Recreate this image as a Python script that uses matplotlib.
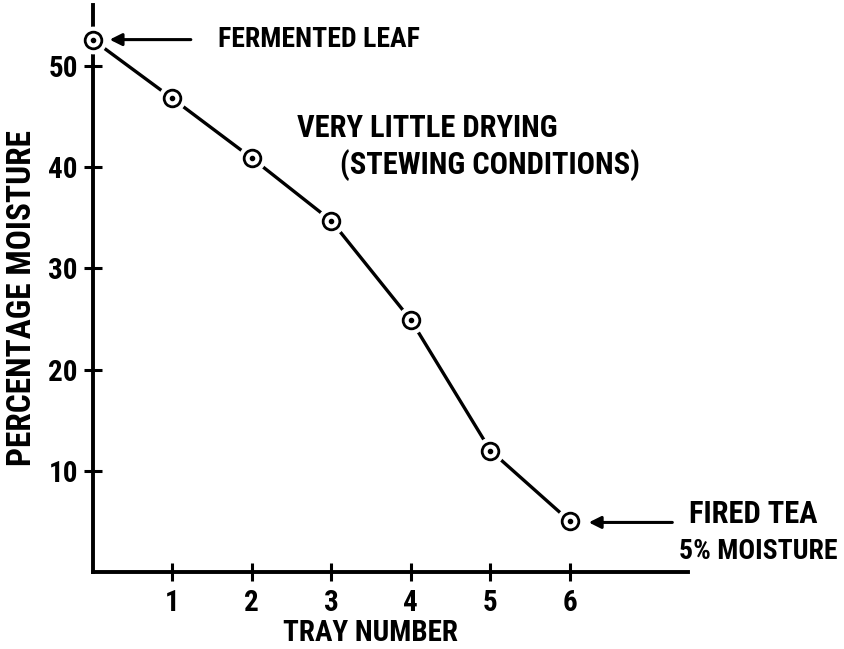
import matplotlib
matplotlib.use("Agg")
import matplotlib.pyplot as plt

tray = [0, 1, 2, 3, 4, 5, 6]
moisture = [52.6, 46.8, 40.9, 34.7, 24.9, 12.0, 5.0]
xticks = [1, 2, 3, 4, 5, 6]
yticks = [10, 20, 30, 40, 50]

plt.rcParams['font.family'] = ['DejaVu Sans Condensed', 'Liberation Sans Narrow',
                               'Roboto Condensed', 'DejaVu Sans']
plt.rcParams['font.stretch'] = 'condensed'
plt.rcParams['font.weight'] = 'semibold'
plt.rcParams['axes.labelweight'] = 'semibold'

fig = plt.figure(figsize=(8.45, 6.49), dpi=100)
ax = fig.add_axes([0.1095, 0.1186, 0.814 - 0.1095, 0.992 - 0.1186])
ax.set_xlim(0, 7.48)
ax.set_ylim(0, 56.0)

for s in ['top', 'right']:
    ax.spines[s].set_visible(False)
for s in ['left', 'bottom']:
    ax.spines[s].set_linewidth(2.8)

ax.plot(tray, moisture, color='black', lw=2.4, zorder=2)
ax.plot(tray, moisture, 'o', ms=19, mfc='white', mec='white', zorder=3, clip_on=False)
ax.plot(tray, moisture, 'o', ms=12, mfc='white', mec='black', mew=2.0, zorder=4, clip_on=False)
ax.plot(tray, moisture, 'o', ms=3, color='black', zorder=5, clip_on=False)

ax.set_xticks(xticks)
ax.set_xticklabels([str(v) for v in xticks])
ax.set_yticks(yticks)
ax.set_yticklabels([str(v) for v in yticks])
ax.tick_params(direction='inout', length=13, width=2.2, labelsize=21, pad=4)
ax.tick_params(axis='x', pad=6)

ax.set_xlabel('TRAY NUMBER', fontsize=21, va='center', ha='center')
ax.xaxis.set_label_coords((371 - 92.5) / (688 - 92.5), -(633 - 572) / 567)
ax.set_ylabel('PERCENTAGE MOISTURE', fontsize=24, va='center', ha='center')
ax.yaxis.set_label_coords(-(92.5 - 22) / 595.5, (572 - 298) / 567)

ax.annotate('', xy=(0.18, 52.6), xytext=(1.27, 52.6),
            arrowprops=dict(arrowstyle='-|>', color='black', lw=2.2, mutation_scale=18))
ax.text(1.58, 52.6, 'FERMENTED LEAF', fontsize=20, va='center', ha='left')

ax.annotate('', xy=(6.2, 4.9), xytext=(7.32, 4.9),
            arrowprops=dict(arrowstyle='-|>', color='black', lw=2.2, mutation_scale=18),
            annotation_clip=False)
ax.text(8.3, 5.73, 'FIRED TEA', fontsize=22, va='center', ha='center', clip_on=False)
ax.text(8.36, 1.98, '5% MOISTURE', fontsize=20, va='center', ha='center', clip_on=False)

ax.text(2.57, 43.9, 'VERY LITTLE DRYING', fontsize=22, va='center', ha='left')
ax.text(3.11, 40.2, '(STEWING CONDITIONS)', fontsize=22, va='center', ha='left')

fig.savefig('out.png', dpi=100)
